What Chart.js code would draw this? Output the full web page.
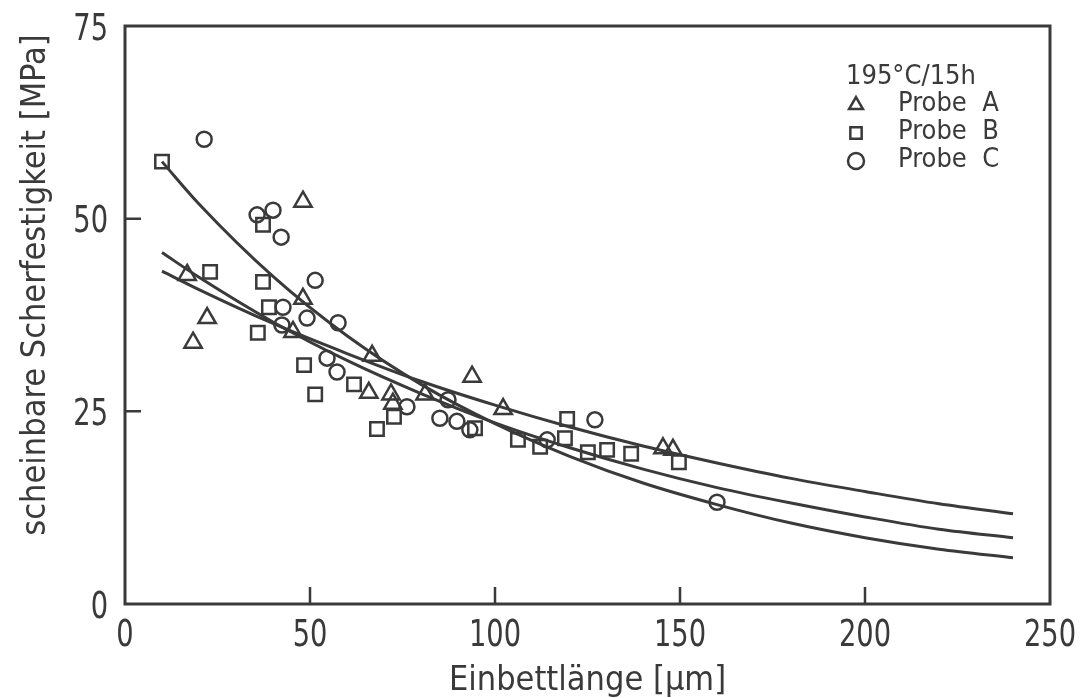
<!DOCTYPE html>
<html>
<head>
<meta charset="utf-8">
<script src="https://cdn.jsdelivr.net/npm/chart.js@4.4.1/dist/chart.umd.min.js"></script>
<style>
  html,body{margin:0;padding:0;background:#fff;}
  #wrap{width:1083px;height:698px;}
</style>
</head>
<body>
<div id="wrap"><canvas id="c" width="1083" height="698"></canvas></div>
<script>
// values
const xTicks = [0,50,100,150,200,250];
const yTicks = [0,25,50,75];

const probeA_x = [16.8,18.4,22.2,48.1,48.1,45.4,66.8,65.9,71.9,72.4,81.1,93.8,102.2,145.4,148.1];
const probeA_y = [42.7,33.9,37.1,52.2,39.6,35.3,32.2,27.4,27.2,26.0,27.2,29.5,25.3,20.2,20.0];

const probeB_x = [10.0,23.0,37.3,37.3,38.9,35.9,48.4,51.4,61.9,68.1,72.7,94.6,106.2,112.2,118.9,119.5,125.1,130.3,136.8,149.7];
const probeB_y = [57.4,43.1,49.2,41.8,38.5,35.2,31.0,27.2,28.5,22.7,24.3,22.8,21.3,20.4,21.5,24.0,19.7,20.0,19.5,18.4];

const probeC_x = [21.4,35.7,40.0,42.2,51.4,42.7,49.2,57.6,42.4,54.6,57.3,76.2,85.1,89.7,93.2,87.3,114.1,127.0,160.0];
const probeC_y = [60.3,50.5,51.1,47.6,42.0,38.5,37.1,36.5,36.2,31.9,30.1,25.6,24.1,23.7,22.6,26.5,21.3,23.9,13.2];

// fitted curves
const curveX      = [10,20,40,60,80,100,120,140,160,180,200,220,240];
const curveSteep  = [57.4,51.9,42.5,34.8,28.5,23.4,19.2,15.7,12.9,10.5,8.6,7.1,6.0];
const curveMid    = [45.6,42.4,36.6,31.6,27.3,23.5,20.3,17.5,15.1,13.1,11.3,9.7,8.6];
const curveFlat   = [43.2,40.8,36.4,32.5,28.9,25.8,23.0,20.5,18.3,16.3,14.6,13.0,11.7];

const legendTitle = '195°C/15h';
const legendRows = [['triangle','Probe  A'],['rect','Probe  B'],['circle','Probe  C']];
const xTitle = 'Einbettlänge [µm]';
const yTitle = 'scheinbare Scherfestigkeit [MPa]';

const INK = '#3a3a3a';
const FONT = "'DejaVu Sans Condensed','DejaVu Sans',sans-serif";

const pts = (xs,ys) => xs.map((x,i)=>({x, y:ys[i]}));

function curve(ys){
  return {type:'line', data:pts(curveX,ys), borderColor:INK, borderWidth:3,
    pointRadius:0, cubicInterpolationMode:'monotone', fill:false, order:2};
}
function markers(xs,ys,style,r){
  return {type:'scatter', data:pts(xs,ys), pointStyle:style, pointRadius:r, pointHoverRadius:r,
    borderColor:INK, backgroundColor:'rgba(0,0,0,0)', pointBorderWidth:2.5, borderWidth:2.5, order:1};
}

// narrow text like the plotter lettering
function narrowText(ctx, txt, x, y, align, sx){
  ctx.save();
  ctx.translate(x, y); ctx.scale(sx, 1);
  ctx.textAlign = align; ctx.textBaseline = 'alphabetic';
  ctx.fillText(txt, 0, 0);
  ctx.restore();
}

const frame = {
  id:'frame',
  afterDraw(chart){
    const {ctx, chartArea:a, scales:{x,y}} = chart;
    ctx.save();
    ctx.strokeStyle = INK; ctx.lineWidth = 3;
    ctx.strokeRect(a.left, a.top, a.right-a.left, a.bottom-a.top);
    ctx.lineWidth = 2.5;
    ctx.beginPath();
    x.ticks.forEach(t=>{ if(t.value>x.min && t.value<x.max){ const px=x.getPixelForValue(t.value); ctx.moveTo(px,a.bottom); ctx.lineTo(px,a.bottom-17); } });
    y.ticks.forEach(t=>{ if(t.value>y.min && t.value<y.max){ const py=y.getPixelForValue(t.value); ctx.moveTo(a.left,py); ctx.lineTo(a.left+16,py); } });
    ctx.stroke();

    // tick labels
    ctx.fillStyle = INK;
    ctx.font = '37px '+FONT;
    x.ticks.forEach(t=>narrowText(ctx, String(t.value), x.getPixelForValue(t.value), a.bottom+42, 'center', 0.82));
    y.ticks.forEach(t=>narrowText(ctx, String(t.value), a.left-17, y.getPixelForValue(t.value)+13.5, 'right', 0.82));

    // axis titles
    ctx.font = '34px '+FONT;
    narrowText(ctx, xTitle, (a.left+a.right)/2, 690, 'center', 1);
    ctx.save();
    ctx.translate(45, 285); ctx.rotate(-Math.PI/2);
    narrowText(ctx, yTitle, 0, 0, 'center', 1);
    ctx.restore();

    // legend
    ctx.font = '27px '+FONT; ctx.textAlign='left'; ctx.textBaseline='middle';
    ctx.fillText(legendTitle, 846, 77);
    legendRows.forEach(([style,label],i)=>{
      const cy = 104 + i*28;
      ctx.fillStyle = 'rgba(0,0,0,0)'; ctx.strokeStyle = INK; ctx.lineWidth = 2.5;
      Chart.helpers.drawPoint(ctx,{pointStyle:style, radius:8, rotation:0, borderWidth:2.5}, 856, cy+1);
      ctx.fillStyle = INK;
      ctx.fillText(label, 898, cy);
    });
    ctx.restore();
  }
};

new Chart(document.getElementById('c'), {
  data:{datasets:[
    curve(curveSteep), curve(curveMid), curve(curveFlat),
    markers(probeA_x, probeA_y, 'triangle', 10),
    markers(probeB_x, probeB_y, 'rect', 9.5),
    markers(probeC_x, probeC_y, 'circle', 7.5)
  ]},
  options:{
    responsive:false, animation:false, devicePixelRatio:1,
    layout:{padding:{top:26, right:33, left:0, bottom:0}},
    plugins:{legend:{display:false}, tooltip:{enabled:false}},
    scales:{
      x:{type:'linear', min:0, max:250,
        afterBuildTicks(s){ s.ticks = xTicks.map(v=>({value:v})); },
        afterFit(s){ s.height = 94; s.paddingLeft = 0; s.paddingRight = 0; },
        grid:{display:false, drawTicks:false}, border:{display:false},
        ticks:{display:false}
      },
      y:{type:'linear', min:0, max:75,
        afterBuildTicks(s){ s.ticks = yTicks.map(v=>({value:v})); },
        afterFit(s){ s.width = 125; s.paddingTop = 0; s.paddingBottom = 0; },
        grid:{display:false, drawTicks:false}, border:{display:false},
        ticks:{display:false}
      }
    }
  },
  plugins:[frame]
});
</script>
</body>
</html>
